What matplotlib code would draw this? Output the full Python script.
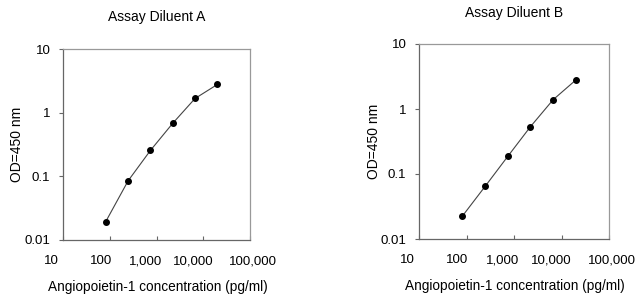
import matplotlib.pyplot as plt
import matplotlib.ticker as mticker
import matplotlib.transforms as mtrans

# standard curve, 3-fold dilutions
conc = [82.3, 247, 741, 2222, 6667, 20000]
od_a = [0.0195, 0.085, 0.255, 0.68, 1.67, 2.77]
od_b = [0.0226, 0.0646, 0.187, 0.535, 1.39, 2.79]

xticks = [10, 100, 1000, 10000, 100000]
yticks = [0.01, 0.1, 1, 10]

titles = ["Assay Diluent A", "Assay Diluent B"]
xlabel = "Angiopoietin-1 concentration (pg/ml)"
ylabel = "OD=450 nm"

plt.rcParams['font.family'] = ['Liberation Sans', 'DejaVu Sans']

W, H = 644, 299
fig = plt.figure(figsize=(W / 100, H / 100), dpi=100)

# axes boxes in pixels: left, top, right, bottom
boxes = [(63, 49, 250, 240), (419, 44, 609, 239)]
title_y = [17, 13]
ylab_x = [17, 374]
xlab_y = [287, 286]
# excel-style labels don't sit exactly under their ticks (px)
xlab_shift = [-12, -9, -11, -10, 3]


def comma_fmt(v, pos):
    if v >= 1:
        return f"{v:,.0f}"
    return f"{v:g}"


for i, (od, (l, t, r, b)) in enumerate(zip([od_a, od_b], boxes)):
    ax = fig.add_axes([l / W, 1 - b / H, (r - l) / W, (b - t) / H])
    ax.plot(conc, od, color='#444444', lw=0.8, marker='o', ms=4,
            mfc='black', mec='black')
    ax.set_xscale('log')
    ax.set_yscale('log')
    ax.set_xlim(10, 100000)
    ax.set_ylim(0.01, 10)
    ax.xaxis.set_major_locator(mticker.FixedLocator(xticks))
    ax.yaxis.set_major_locator(mticker.FixedLocator(yticks))
    ax.xaxis.set_major_formatter(mticker.FuncFormatter(comma_fmt))
    ax.yaxis.set_major_formatter(mticker.FuncFormatter(comma_fmt))
    ax.xaxis.set_minor_locator(mticker.NullLocator())
    ax.yaxis.set_minor_locator(mticker.NullLocator())
    ax.tick_params(axis='y', labelsize=9.5, length=3, width=0.8, pad=6,
                   direction='out', color='#666666')
    ax.tick_params(axis='x', labelsize=9.5, length=3, width=0.8, pad=11,
                   direction='in', color='#666666')
    for lab, dx in zip(ax.get_xticklabels(), xlab_shift):
        shift = mtrans.ScaledTranslation(dx / 100, 0, fig.dpi_scale_trans)
        lab.set_transform(lab.get_transform() + shift)
    for s in ['left', 'bottom']:
        ax.spines[s].set_color('#666666')
        ax.spines[s].set_linewidth(0.9)
    for s in ['top', 'right']:
        ax.spines[s].set_color('#999999')
        ax.spines[s].set_linewidth(0.9)
    cx = (l + r) / 2
    fig.text(cx / W, 1 - title_y[i] / H, titles[i], ha='center', va='center', fontsize=10)
    fig.text(cx / W + 0.002, 1 - xlab_y[i] / H, xlabel, ha='center', va='center', fontsize=9.8)
    fig.text(ylab_x[i] / W, 1 - ((t + b) / 2) / H, ylabel, ha='center', va='center',
             rotation=90, fontsize=10)

fig.savefig('out.png', dpi=100)
